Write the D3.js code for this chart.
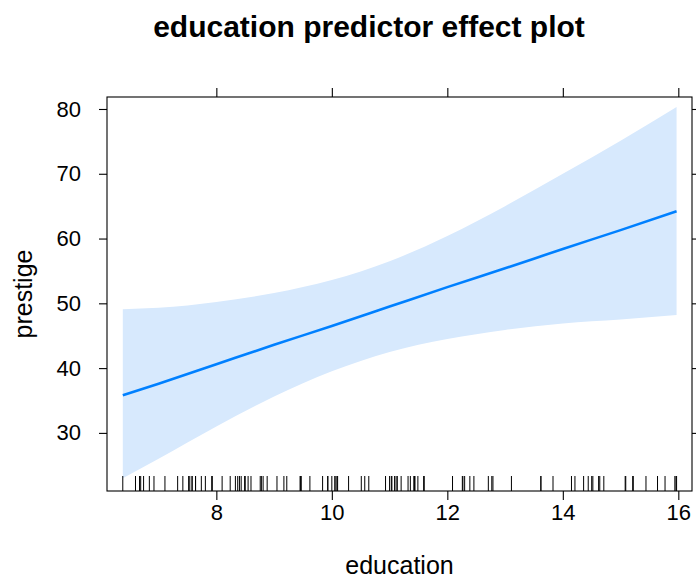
<!DOCTYPE html>
<html><head><meta charset="utf-8">
<script src="https://cdn.jsdelivr.net/npm/d3@7"></script>
<style>body{margin:0;background:#fff}svg{display:block}text{font-family:"Liberation Sans",Arial,sans-serif}</style>
</head><body><svg id="c" width="696" height="579"></svg>
<script>
const educationGrid = [6.38, 7, 8, 9, 10, 11, 12, 13, 14, 15, 15.97];
const fitValues   = [35.8, 37.6, 40.6, 43.6, 46.5, 49.5, 52.5, 55.4, 58.4, 61.3, 64.2];
const upperValues = [49.1, 49.3, 50.2, 51.6, 53.6, 56.5, 60.4, 65.0, 70.0, 75.1, 80.3];
const lowerValues = [23.0, 26.0, 31.0, 35.6, 39.5, 42.5, 44.5, 45.9, 46.9, 47.5, 48.2];
const rugEducation = [13.11,12.26,12.77,11.42,14.62,15.64,15.09,15.44,14.52,14.64,12.39,12.30,13.83,14.44,14.36,14.21,15.77,14.15,15.22,14.50,15.97,13.62,15.08,15.96,15.94,14.71,12.46,9.45,13.62,15.21,12.79,11.09,12.71,11.44,11.59,11.49,11.32,10.64,11.36,9.17,12.09,11.04,9.22,10.07,10.51,11.20,11.13,11.43,11.00,9.84,11.13,10.05,9.62,9.93,11.60,11.09,11.03,9.47,10.93,7.74,8.50,10.57,9.46,7.33,7.11,7.58,6.84,8.60,8.88,7.54,7.64,7.64,7.42,6.69,6.74,10.09,8.81,8.40,7.92,8.43,8.78,8.76,10.29,6.38,8.10,10.10,6.67,9.05,9.93,8.24,6.92,6.60,7.81,8.33,7.52,12.27,8.49,7.58,7.93,8.37,10.00,8.55];
const xTicks = [8, 10, 12, 14, 16];
const yTicks = [30, 40, 50, 60, 70, 80];
const titleText = "education predictor effect plot";
const xLabel = "education", yLabel = "prestige";

const svg = d3.select("#c");
const L = 107, R = 692, T = 97, B = 491;
const x = d3.scaleLinear().domain([6.1065, 16.237]).range([L, R]);
const y = d3.scaleLinear().domain([21.03, 81.85]).range([B, T]);
const data = educationGrid.map((e, i) => ({e, f: fitValues[i], u: upperValues[i], l: lowerValues[i]}));

svg.append("path").datum(data)
  .attr("d", d3.area().x(d => x(d.e)).y0(d => y(d.l)).y1(d => y(d.u)).curve(d3.curveMonotoneX))
  .attr("fill", "#d7e9fd");
svg.append("path").datum(data)
  .attr("d", d3.line().x(d => x(d.e)).y(d => y(d.f)).curve(d3.curveMonotoneX))
  .attr("fill", "none").attr("stroke", "#0080ff").attr("stroke-width", 2.6);

svg.append("g").selectAll("line").data(rugEducation).join("line")
  .attr("x1", d => x(d)).attr("x2", d => x(d))
  .attr("y1", B - 15).attr("y2", B)
  .attr("stroke", "#000").attr("stroke-width", 1);

svg.append("rect").attr("x", L).attr("y", T).attr("width", R - L).attr("height", B - T)
  .attr("fill", "none").attr("stroke", "#000").attr("stroke-width", 1.1);

const fmt = d3.format("d");
const gB = svg.append("g").attr("transform", `translate(0,${B})`)
  .call(d3.axisBottom(x).tickValues(xTicks).tickFormat(fmt).tickSize(9).tickPadding(4));
const gT = svg.append("g").attr("transform", `translate(0,${T})`)
  .call(d3.axisTop(x).tickValues(xTicks).tickFormat("").tickSize(9));
const gL = svg.append("g").attr("transform", `translate(${L},0)`)
  .call(d3.axisLeft(y).tickValues(yTicks).tickFormat(fmt).tickSize(8).tickPadding(18));
const gR = svg.append("g").attr("transform", `translate(${R},0)`)
  .call(d3.axisRight(y).tickValues(yTicks).tickFormat("").tickSize(8));
[gB, gT, gL, gR].forEach(g => {
  g.select(".domain").remove();
  g.selectAll(".tick line").attr("stroke", "#000").attr("stroke-width", 1.1);
  g.selectAll(".tick text").attr("fill", "#000").style("font-size", "22px")
    .style("font-family", '"Liberation Sans",Arial,sans-serif');
});

svg.append("text").attr("x", 369).attr("y", 37).attr("text-anchor", "middle")
  .style("font-size", "30px").style("font-weight", "bold").text(titleText);
svg.append("text").attr("x", (L + R) / 2).attr("y", 574).attr("text-anchor", "middle")
  .style("font-size", "25px").text(xLabel);
svg.append("text").attr("transform", `translate(32,${(T + B) / 2}) rotate(-90)`)
  .attr("text-anchor", "middle").style("font-size", "25px").text(yLabel);
</script></body></html>
